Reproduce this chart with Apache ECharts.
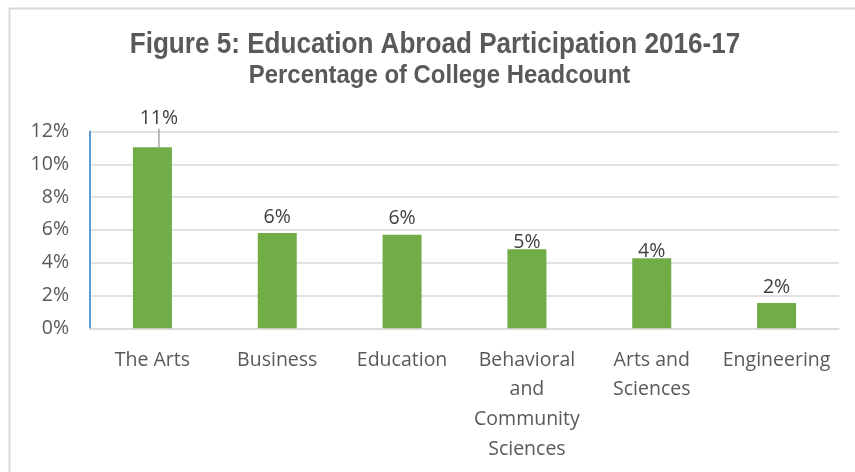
<!DOCTYPE html>
<html>
<head>
<meta charset="utf-8">
<script src="https://cdn.jsdelivr.net/npm/echarts@6/dist/echarts.min.js"></script>
<style>html,body{margin:0;padding:0;background:#fff}#c{width:855px;height:472px}</style>
</head>
<body>
<div id="c"></div>
<script>
var categories = ['The Arts', 'Business', 'Education', 'Behavioral\nand\nCommunity\nSciences', 'Arts and\nSciences', 'Engineering'];
var values = [11.04, 5.81, 5.71, 4.82, 4.27, 1.54];
var yTicks = [0, 2, 4, 6, 8, 10, 12];
var titleLine1 = 'Figure 5: Education Abroad Participation 2016-17';
var titleLine2 = 'Percentage of College Headcount';

var chart = echarts.init(document.getElementById('c'), null, {renderer: 'canvas'});
var labelFont = '"Open Sans", "Liberation Sans", sans-serif';
var titleFont = '"Liberation Sans", Arial, sans-serif';
var seriesData = values.map(function (v, i) {
  return i === 0 ? {value: v, labelLine: {show: true}} : {value: v};
});
chart.setOption({
  animation: false,
  backgroundColor: '#fff',
  graphic: [{
    type: 'rect', silent: true, z: -1,
    shape: {x: 9.5, y: 8.5, width: 900, height: 500},
    style: {fill: 'none', stroke: '#D9D9D9', lineWidth: 2}
  }, {
    type: 'text', silent: true, x: 435, y: 45, scaleX: 0.9,
    style: {text: titleLine1, textAlign: 'center', textVerticalAlign: 'middle',
      font: 'bold 29px ' + titleFont, fill: '#595959'}
  }, {
    type: 'text', silent: true, x: 439.5, y: 76, scaleX: 0.92,
    style: {text: titleLine2, textAlign: 'center', textVerticalAlign: 'middle',
      font: 'bold 26px ' + titleFont, fill: '#595959'}
  }],
  grid: {left: 90, right: 16, top: 131.5, bottom: 143.7, containLabel: false},
  xAxis: {
    type: 'category', data: categories,
    axisLine: {show: true, lineStyle: {color: '#D9D9D9', width: 1.5}},
    axisTick: {show: false},
    axisLabel: {color: '#595959', fontFamily: labelFont, fontSize: 19.5, lineHeight: 29.7, margin: 17, interval: 0, verticalAlign: 'top'}
  },
  yAxis: {
    type: 'value', min: 0, max: 12, interval: 2,
    axisLine: {show: true, lineStyle: {color: '#5B9BD5', width: 2}},
    axisTick: {show: false},
    splitLine: {lineStyle: {color: '#D9D9D9', width: 1.5}},
    axisLabel: {color: '#595959', fontFamily: labelFont, fontSize: 19.5, margin: 21,
      formatter: function (v) { return yTicks.indexOf(v) >= 0 ? v + '%' : ''; }}
  },
  series: [{
    type: 'bar', data: seriesData, barWidth: 39,
    itemStyle: {color: '#70AD47'},
    label: {show: true, position: 'top', distance: 6, color: '#404040', fontFamily: labelFont, fontSize: 19.5,
      formatter: function (p) { return Math.round(p.value) + '%'; }},
    labelLine: {show: false, lineStyle: {color: '#A6A6A6', width: 1.5}},
    labelLayout: function (p) {
      if (p.dataIndex === 0) return {dx: 6.5, dy: -12.5};
      if (p.dataIndex === 3 || p.dataIndex === 4) return {dy: 9};
      return {};
    }
  }]
});
</script>
</body>
</html>
